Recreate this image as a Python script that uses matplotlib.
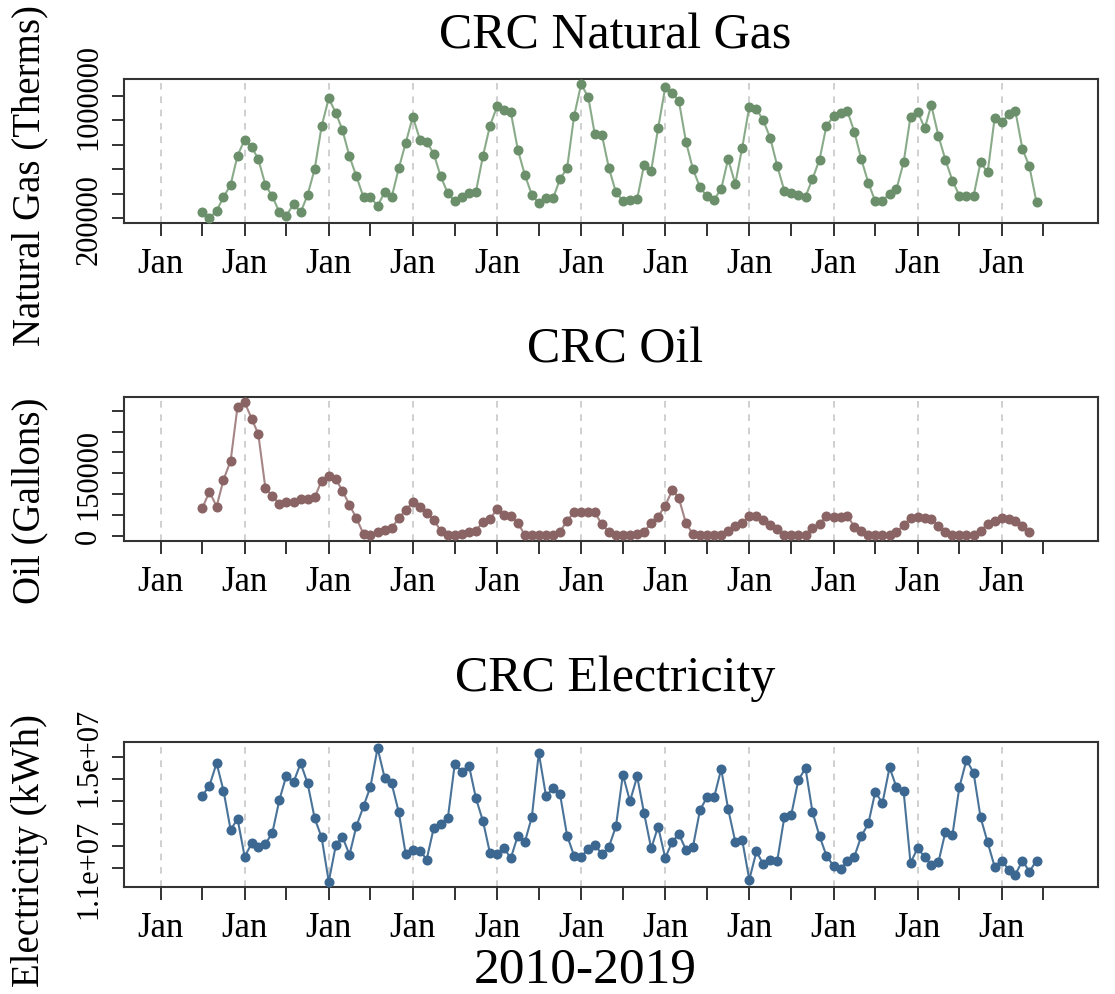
import numpy as np
import pandas as pd
import matplotlib
matplotlib.use("Agg")
import matplotlib.pyplot as plt

plt.rcParams['font.family'] = ['Liberation Serif', 'DejaVu Serif']

# monthly series, Jul 2009 onwards
gas_months = pd.date_range('2009-07-01', periods=120, freq='MS')
gas = [239000, 200000, 250000, 337000, 419000, 609000, 713000, 663000, 587000, 417000,
       343000, 239000, 217000, 293000, 239000, 352000, 522000, 800000, 983000, 887000,
       778000, 604000, 474000, 337000, 337000, 282000, 369000, 337000, 526000, 691000,
       863000, 713000, 700000, 620000, 474000, 363000, 311000, 341000, 365000, 374000,
       609000, 804000, 931000, 909000, 896000, 648000, 485000, 352000, 298000, 330000,
       330000, 456000, 528000, 865000, 1076000, 989000, 750000, 744000, 530000, 369000,
       315000, 319000, 326000, 548000, 511000, 787000, 1055000, 1018000, 968000, 700000,
       522000, 402000, 343000, 322000, 391000, 587000, 424000, 659000, 928000, 913000,
       841000, 724000, 543000, 380000, 363000, 354000, 341000, 456000, 583000, 804000,
       865000, 885000, 902000, 765000, 587000, 430000, 311000, 315000, 359000, 391000,
       565000, 863000, 896000, 787000, 939000, 739000, 583000, 446000, 348000, 348000,
       348000, 565000, 500000, 852000, 826000, 881000, 902000, 652000, 539000, 304000]

oil_months = pd.date_range('2009-07-01', periods=119, freq='MS')
oil = [66000, 106000, 70000, 134000, 180000, 310000, 320000, 280000, 244000, 114000,
       96000, 76000, 80000, 80000, 88000, 88000, 92000, 132000, 144000, 136000,
       108000, 74000, 42000, 4000, 2000, 8000, 14000, 18000, 42000, 62000,
       80000, 68000, 54000, 38000, 12000, 2500, 2500, 4000, 9700, 12000,
       34000, 40000, 64000, 50000, 48000, 30000, 2500, 1000, 1000, 1000,
       2500, 9700, 36000, 56000, 58000, 56000, 56000, 27000, 9700, 2500,
       1000, 1000, 4000, 9700, 30000, 46000, 72000, 110000, 90000, 30000,
       4000, 1000, 1000, 1000, 1000, 12000, 24000, 30000, 48000, 48000,
       38000, 26000, 16000, 1000, 1000, 1000, 2500, 18000, 28000, 48000,
       46000, 44000, 48000, 22000, 12000, 1000, 1000, 2500, 2500, 8000,
       26000, 42000, 46000, 42000, 40000, 24000, 8000, 1000, 1000, 1000,
       2500, 12000, 28000, 36000, 42000, 40000, 36000, 24000, 8000]

elec_months = pd.date_range('2009-07-01', periods=120, freq='MS')
elec = [13600000, 13960000, 14760000, 13780000, 12380000, 12770000, 11420000, 11910000, 11760000, 11880000,
        12270000, 13460000, 14320000, 14080000, 14760000, 14050000, 12790000, 12110000, 10530000, 11840000,
        12140000, 11490000, 12510000, 13220000, 13920000, 15300000, 14230000, 14040000, 13010000, 11520000,
        11660000, 11640000, 11320000, 12450000, 12590000, 12790000, 14730000, 14460000, 14670000, 13510000,
        12680000, 11550000, 11520000, 11730000, 11360000, 12170000, 11930000, 12850000, 15130000, 13600000,
        13860000, 13660000, 12170000, 11460000, 11420000, 11700000, 11840000, 11520000, 11760000, 12510000,
        14350000, 13400000, 14290000, 12980000, 11720000, 12490000, 11380000, 11960000, 12230000, 11670000,
        11760000, 13090000, 13540000, 13540000, 14550000, 13130000, 11960000, 12030000, 10600000, 11610000,
        11160000, 11300000, 11260000, 12830000, 12910000, 14160000, 14580000, 13030000, 12150000, 11460000,
        11080000, 10980000, 11280000, 11420000, 12150000, 12610000, 13740000, 13330000, 14610000, 13900000,
        13760000, 11200000, 11730000, 11400000, 11130000, 11220000, 12290000, 12200000, 13900000, 14880000,
        14410000, 12830000, 11930000, 11070000, 11280000, 10950000, 10780000, 11280000, 10890000, 11280000]

W, H = 1115, 995
fig = plt.figure(figsize=(W / 100, H / 100), dpi=100)


def px_axes(left, top, right, bottom):
    return fig.add_axes([left / W, 1 - bottom / H, (right - left) / W, (bottom - top) / H])


jan_ticks = pd.date_range('2009-01-01', '2019-01-01', freq='YS')
jul_ticks = pd.date_range('2009-07-01', '2019-07-01', freq='12MS')
xmin, xmax = pd.Timestamp('2008-07-26'), pd.Timestamp('2020-02-23')

panels = [
    # months, values, line colour, point colour, title, ylabel, ylim, yticks, yticklabels, box, title y, ylabel y
    (gas_months, gas, '#8aab8a', '#6b8f6b', 'CRC Natural Gas', 'Natural Gas (Therms)',
     (169300, 1109000), np.linspace(200000, 1000000, 6), ['200000', '', '', '', '', '1000000'],
     (124, 80, 1098, 224), 36, 175),
    (oil_months, oil, '#a58585', '#8a6464', 'CRC Oil', 'Oil (Gallons)',
     (-12700, 332900), np.arange(0, 300001, 50000), ['0', '', '', '150000', '', '', ''],
     (124, 398, 1098, 542), 350, 501),
    (elec_months, elec, '#4a7399', '#3b6791', 'CRC Electricity', 'Electricity (kWh)',
     (10339000, 15518000), np.linspace(1.1e7, 1.5e7, 6), ['1.1e+07', '', '', '', '', '1.5e+07'],
     (124, 743, 1098, 888), 679, 851),
]

for months, vals, lcol, pcol, title, ylab, ylim, yt, ytl, box, ty, ly in panels:
    ax = px_axes(*box)
    ax.plot(months, vals, color=lcol, lw=1.5, zorder=2)
    ax.plot(months, vals, ls='none', marker='o', ms=6.2, mec=pcol, mfc=pcol, zorder=3)
    ax.set_xlim(xmin, xmax)
    ax.set_ylim(*ylim)
    for d in jan_ticks:
        ax.axvline(d, color='#c8c8c8', lw=1.2, ls=(0, (4, 4)), zorder=0)
    ax.set_xticks(list(jan_ticks) + list(jul_ticks))
    ax.set_xticklabels(['Jan'] * len(jan_ticks) + [''] * len(jul_ticks), fontsize=25)
    ax.set_yticks(yt)
    ax.set_yticklabels(ytl, rotation=90, va='center', fontsize=22)
    ax.tick_params(axis='both', direction='out', length=9, width=1.4, color='#333333')
    ax.tick_params(axis='x', pad=8)
    ax.tick_params(axis='y', pad=6)
    for s in ax.spines.values():
        s.set_color('#333333')
        s.set_linewidth(1.5)
    fig.text(615 / W, 1 - ty / H, title, ha='center', va='center', fontsize=36)
    fig.text(30 / W, 1 - ly / H, ylab, ha='center', va='center', rotation=90, fontsize=28)

fig.text(585 / W, 1 - 970 / H, '2010-2019', ha='center', va='center', fontsize=37)

fig.savefig('out.png', dpi=100)
